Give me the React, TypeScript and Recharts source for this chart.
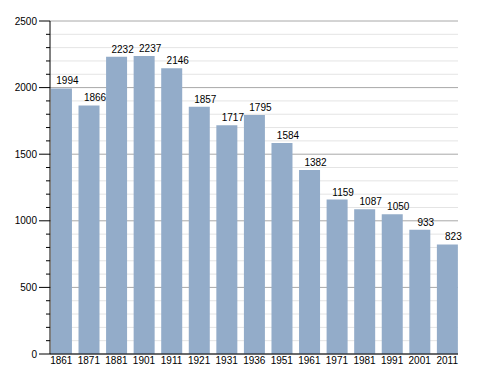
import { BarChart, Bar, XAxis, YAxis, CartesianGrid, LabelList } from "recharts";

const years = ["1861", "1871", "1881", "1901", "1911", "1921", "1931", "1936", "1951", "1961", "1971", "1981", "1991", "2001", "2011"];
const population = [1994, 1866, 2232, 2237, 2146, 1857, 1717, 1795, 1584, 1382, 1159, 1087, 1050, 933, 823];
const majorTicks = [0, 500, 1000, 1500, 2000, 2500];
const minorTicks = [
    100, 200, 300, 400, 600, 700, 800, 900, 1100, 1200, 1300, 1400,
    1600, 1700, 1800, 1900, 2100, 2200, 2300, 2400,
];
const allTicks = [...majorTicks, ...minorTicks].sort((a, b) => a - b);

const data = years.map((year, i) => ({ year, value: population[i] }));

const FONT = "'Liberation Sans', Arial, sans-serif";

// y axis tick: long mark + label every 500, short mark otherwise
function YTick(props: any) {
    const { x, y, payload } = props;
    const major = payload.value % 500 === 0;
    return (
        <g>
            <line x1={x - (major ? 11 : 4)} x2={x} y1={y} y2={y} stroke="#000" strokeWidth={1} />
            {major && (
                <text x={x - 13} y={y} dy={3.5} textAnchor="end" fontSize={10} fill="#000" fontFamily={FONT}>
                    {payload.value}
                </text>
            )}
        </g>
    );
}

export default function App() {
    return (
        <div style={{ position: "absolute", left: 0, top: 0, background: "#fff" }}>
            <BarChart
                width={488}
                height={373}
                data={data}
                margin={{ top: 21, right: 30, bottom: 0, left: 8 }}
                barCategoryGap="12.5%"
            >
                <CartesianGrid vertical={false} horizontalValues={minorTicks} stroke="#e4e4e4" />
                <CartesianGrid vertical={false} horizontalValues={majorTicks} stroke="#a8a8a8" />
                <XAxis
                    dataKey="year"
                    height={19}
                    tickLine={false}
                    tickSize={0}
                    tickMargin={3}
                    padding={{ left: -2.5, right: -3 }}
                    axisLine={{ stroke: "#000" }}
                    interval={0}
                    tick={{ fontSize: 10, fill: "#000", fontFamily: FONT }}
                />
                <YAxis
                    width={42}
                    domain={[0, 2500]}
                    ticks={allTicks}
                    interval={0}
                    tickLine={false}
                    tickSize={0}
                    tickMargin={0}
                    axisLine={{ stroke: "#000" }}
                    tick={<YTick />}
                />
                <Bar dataKey="value" fill="#93acc9" isAnimationActive={false}>
                    <LabelList
                        dataKey="value"
                        position="top"
                        offset={4}
                        dx={6}
                        fontSize={10}
                        fill="#000"
                        fontFamily={FONT}
                    />
                </Bar>
            </BarChart>
        </div>
    );
}
